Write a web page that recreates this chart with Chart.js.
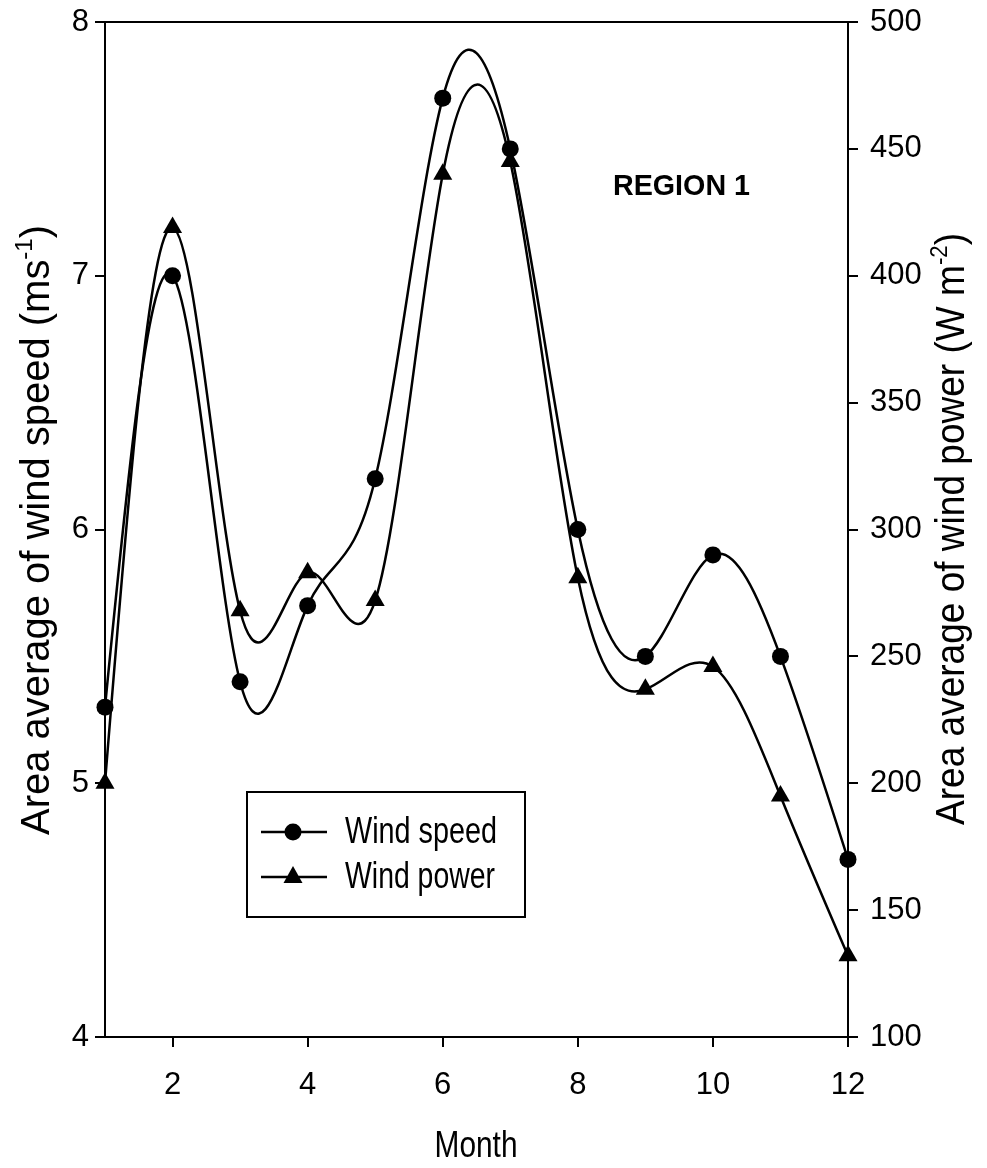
<!DOCTYPE html>
<html>
<head>
<meta charset="utf-8">
<script src="https://cdn.jsdelivr.net/npm/chart.js@4.4.0/dist/chart.umd.min.js"></script>
<style>
  html, body { margin: 0; padding: 0; background: #fff; }
  #wrap { width: 987px; height: 1168px; position: relative; }
</style>
</head>
<body>
<div id="wrap"><canvas id="chart"></canvas></div>
<script>
// values
const months = [1, 2, 3, 4, 5, 6, 7, 8, 9, 10, 11, 12];
const windSpeed = [5.3, 7.0, 5.4, 5.7, 6.2, 7.7, 7.5, 6.0, 5.5, 5.9, 5.5, 4.7];
const windPower = [200, 419, 268, 283, 272, 440, 445, 281, 237, 246, 195, 132];
const monthTicks = [2, 4, 6, 8, 10, 12];
const speedTicks = [4, 5, 6, 7, 8];
const powerTicks = [100, 150, 200, 250, 300, 350, 400, 450, 500];

const FONT = "'Liberation Sans Narrow', 'Liberation Sans', Arial, sans-serif";
const WIDE = "'Liberation Sans', Arial, sans-serif";

// draws a run of text pieces (for superscripts), squeezed to a given length
function drawRich(ctx, parts, cx, cy, length) {
    let total = 0;
    parts.forEach(p => { ctx.font = p.size + 'px ' + WIDE; p.w = ctx.measureText(p.t).width; total += p.w; });
    const s = length / total;
    ctx.save();
    ctx.translate(cx, cy);
    ctx.scale(s, 1);
    ctx.textBaseline = 'middle';
    ctx.textAlign = 'left';
    let x = -total / 2;
    parts.forEach(p => {
        ctx.font = p.size + 'px ' + WIDE;
        ctx.fillText(p.t, x, p.rise || 0);
        x += p.w;
    });
    ctx.restore();
}

function drawFit(ctx, text, x, y, width, font, align) {
    ctx.font = font;
    const w = ctx.measureText(text).width;
    ctx.save();
    ctx.translate(x, y);
    ctx.scale(width / w, 1);
    ctx.textAlign = align || 'left';
    ctx.textBaseline = 'middle';
    ctx.fillText(text, 0, 0);
    ctx.restore();
}

function marker(ctx, style, x, y) {
    ctx.beginPath();
    if (style === 'circle') {
        ctx.arc(x, y, 8.5, 0, Math.PI * 2);
    } else {
        ctx.moveTo(x, y - 11);
        ctx.lineTo(x + 9.5, y + 6);
        ctx.lineTo(x - 9.5, y + 6);
        ctx.closePath();
    }
    ctx.fill();
}

// no extra room for overhanging tick labels, the frame is placed by hand
function noPad(s) {
    s.paddingTop = 0;
    s.paddingBottom = 0;
    s.paddingLeft = 0;
    s.paddingRight = 0;
}

// natural cubic spline through the (already scaled) points, written into
// the bezier control points that the line element draws with
const naturalSpline = {
    id: 'naturalSpline',
    beforeDatasetDraw(chart, args) {
        const meta = args.meta;
        const line = meta.dataset;
        line.updateControlPoints(chart.chartArea, 'x');
        const pts = meta.data;
        const n = pts.length;
        if (n < 3) return;
        const h = [], M = new Array(n).fill(0);
        for (let i = 0; i < n - 1; i++) h.push(pts[i + 1].x - pts[i].x);
        // tridiagonal solve for second derivatives, natural ends
        const a = [], b = [], c = [], d = [];
        for (let i = 1; i < n - 1; i++) {
            a.push(h[i - 1]);
            b.push(2 * (h[i - 1] + h[i]));
            c.push(h[i]);
            d.push(6 * ((pts[i + 1].y - pts[i].y) / h[i] - (pts[i].y - pts[i - 1].y) / h[i - 1]));
        }
        const m = b.length;
        for (let i = 1; i < m; i++) {
            const w = a[i] / b[i - 1];
            b[i] -= w * c[i - 1];
            d[i] -= w * d[i - 1];
        }
        const sol = new Array(m);
        sol[m - 1] = d[m - 1] / b[m - 1];
        for (let i = m - 2; i >= 0; i--) sol[i] = (d[i] - c[i] * sol[i + 1]) / b[i];
        for (let i = 0; i < m; i++) M[i + 1] = sol[i];
        for (let i = 0; i < n - 1; i++) {
            const p0 = pts[i], p1 = pts[i + 1], hi = h[i];
            const s0 = (p1.y - p0.y) / hi - hi * (2 * M[i] + M[i + 1]) / 6;
            const s1 = (p1.y - p0.y) / hi + hi * (M[i] + 2 * M[i + 1]) / 6;
            p0.cp2x = p0.x + hi / 3;
            p0.cp2y = p0.y + s0 * hi / 3;
            p1.cp1x = p1.x - hi / 3;
            p1.cp1y = p1.y - s1 * hi / 3;
        }
        line._path = undefined;
    }
};

const decorations = {
    id: 'decorations',
    afterDraw(chart) {
        const ctx = chart.ctx;
        const a = chart.chartArea;
        ctx.save();
        ctx.fillStyle = '#000';
        ctx.strokeStyle = '#000';

        // top frame line
        ctx.lineWidth = 2;
        ctx.beginPath();
        ctx.moveTo(a.left, a.top);
        ctx.lineTo(a.right, a.top);
        ctx.stroke();

        // axis titles, both read bottom to top
        ctx.save();
        ctx.translate(38, 530);
        ctx.rotate(-Math.PI / 2);
        drawRich(ctx, [
            { t: 'Area average of wind speed (ms', size: 40 },
            { t: '-1', size: 24, rise: -13 },
            { t: ')', size: 40 }
        ], 0, 0, 610);
        ctx.restore();

        ctx.save();
        ctx.translate(953, 529);
        ctx.rotate(-Math.PI / 2);
        drawRich(ctx, [
            { t: 'Area average of wind power (W m', size: 40 },
            { t: '-2', size: 24, rise: -13 },
            { t: ')', size: 40 }
        ], 0, 0, 592);
        ctx.restore();

        drawFit(ctx, 'Month', 476, 1147, 83, '37px ' + WIDE, 'center');
        drawFit(ctx, 'REGION 1', 613, 187, 137, 'bold 30px ' + WIDE, 'left');

        // legend box
        ctx.lineWidth = 2;
        ctx.strokeRect(247, 792, 278, 125);
        const rows = [
            { label: 'Wind speed', style: 'circle', y: 832 },
            { label: 'Wind power', style: 'triangle', y: 877 }
        ];
        rows.forEach(r => {
            ctx.lineWidth = 2.5;
            ctx.beginPath();
            ctx.moveTo(261, r.y);
            ctx.lineTo(327, r.y);
            ctx.stroke();
            marker(ctx, r.style, 293, r.y);
            drawFit(ctx, r.label, 345, r.y + 1, r.label === 'Wind speed' ? 152 : 150, '37px ' + WIDE, 'left');
        });
        ctx.restore();
    }
};

new Chart(document.getElementById('chart'), {
    type: 'line',
    data: {
        datasets: [
            {
                label: 'Wind speed',
                data: months.map((m, i) => ({ x: m, y: windSpeed[i] })),
                yAxisID: 'y',
                borderColor: '#000',
                backgroundColor: '#000',
                borderWidth: 2.5,
                pointStyle: 'circle',
                pointRadius: 8.5,
                pointBorderWidth: 0,
                tension: 0.4,
                clip: false
            },
            {
                label: 'Wind power',
                data: months.map((m, i) => ({ x: m, y: windPower[i] })),
                yAxisID: 'y1',
                borderColor: '#000',
                backgroundColor: '#000',
                borderWidth: 2.5,
                pointStyle: 'triangle',
                pointRadius: 11,
                pointBorderWidth: 0,
                tension: 0.4,
                clip: false
            }
        ]
    },
    options: {
        responsive: true,
        maintainAspectRatio: false,
        animation: false,
        layout: { padding: { top: 22, left: 0, right: 0, bottom: 0 } },
        plugins: { legend: { display: false }, tooltip: { enabled: false } },
        scales: {
            x: {
                type: 'linear',
                min: 1,
                max: 12,
                afterBuildTicks: s => { s.ticks = monthTicks.map(v => ({ value: v })); },
                afterFit: s => { s.height = 131; noPad(s); },
                grid: { drawOnChartArea: false, tickLength: 10, color: '#000', lineWidth: 2 },
                border: { color: '#000', width: 2 },
                ticks: { color: '#000', font: { family: FONT, size: 31 }, padding: 20, maxRotation: 0 }
            },
            y: {
                position: 'left',
                min: 4,
                max: 8,
                afterBuildTicks: s => { s.ticks = speedTicks.map(v => ({ value: v })); },
                afterFit: s => { s.width = 105; noPad(s); },
                grid: { drawOnChartArea: false, tickLength: 10, color: '#000', lineWidth: 2 },
                border: { color: '#000', width: 2 },
                ticks: { color: '#000', font: { family: FONT, size: 31 }, padding: 6 }
            },
            y1: {
                position: 'right',
                min: 100,
                max: 500,
                afterBuildTicks: s => { s.ticks = powerTicks.map(v => ({ value: v })); },
                afterFit: s => { s.width = 139; noPad(s); },
                grid: { drawOnChartArea: false, tickLength: 10, color: '#000', lineWidth: 2 },
                border: { color: '#000', width: 2 },
                ticks: { color: '#000', font: { family: FONT, size: 31 }, padding: 12 }
            }
        }
    },
    plugins: [naturalSpline, decorations]
});
</script>
</body>
</html>
